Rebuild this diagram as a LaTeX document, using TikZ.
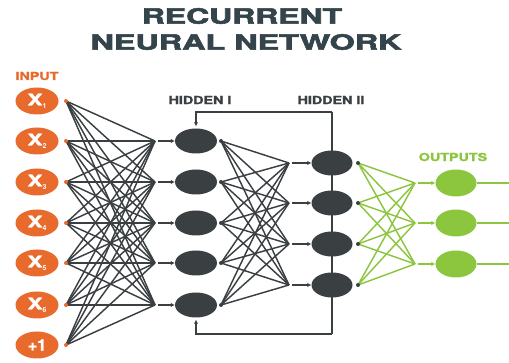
\documentclass[tikz,border=0pt]{standalone}
\usepackage{fontspec}
\setmainfont{TeX Gyre Heros}
\newfontfamily\heavy{TeX Gyre Heros}[BoldFeatures={FakeBold=1.6}]
\newfontfamily\heavier{TeX Gyre Heros}[BoldFeatures={FakeBold=2.4}]
\usetikzlibrary{arrows.meta,shapes.geometric}
\definecolor{ink}{HTML}{3A3F42}
\definecolor{titlecol}{HTML}{34444B}
\definecolor{orng}{HTML}{E86A2C}
\definecolor{grn}{HTML}{8CC63F}
\newcommand{\wide}[2]{\scalebox{#1}[1]{#2}}
\newcommand{\xin}[1]{\wide{1.4}{X}\raisebox{-3pt}{\normalfont\bfseries\fontsize{7}{7}\selectfont #1}}
\begin{document}
\begin{tikzpicture}[x=1pt,y=-1pt,
  inp/.style={ellipse, fill=orng, minimum width=43pt, minimum height=27pt, inner sep=0pt,
    text=white, font=\heavy\bfseries\fontsize{16}{16}\selectfont},
  hid/.style={ellipse, fill=ink, minimum width=42pt, minimum height=25pt, inner sep=0pt},
  outn/.style={ellipse, fill=grn, minimum width=41pt, minimum height=27pt, inner sep=0pt},
  wire/.style={draw=ink, line width=1.45pt},
  gwire/.style={draw=grn, line width=1.45pt},
  arr/.style={draw=ink, line width=1.3pt, -{Latex[length=4pt,width=4.5pt]}},
  garr/.style={draw=grn, line width=1.3pt, -{Latex[length=4pt,width=4.5pt]}},
  lbl/.style={font=\heavy\bfseries\fontsize{11}{11}\selectfont, inner sep=0pt},
  ttl/.style={font=\heavier\bfseries\fontsize{21}{21}\selectfont, text=titlecol, inner sep=0pt},
]
\useasboundingbox[fill=white] (0,0) rectangle (509,363);

% title
\node[ttl] (t1) at (242,16) {\wide{1.52}{RECURRENT}};
\node[ttl] (t2) at (246,42) {\wide{1.54}{NEURAL NETWORK}};

% layer labels
\node[lbl, text=orng] (lin) at (37,76) {\wide{1.3}{INPUT}};
\node[lbl, text=ink] (lh1) at (200,100) {\wide{1.3}{HIDDEN I}};
\node[lbl, text=ink] (lh2) at (331,100) {\wide{1.3}{HIDDEN II}};
\node[lbl, text=grn] (lout) at (453,157) {\wide{1.3}{OUTPUTS}};

% input layer
\foreach \i/\y/\t in {1/101/\xin{1},2/141/\xin{2},3/182/\xin{3},4/223/\xin{4},5/263/\xin{5},6/305/\xin{6},7/345/+1}{
  \node[inp] (i\i) at (37,\y) {\t};
  \coordinate (d\i) at (66,\y);
}

% hidden layer I
\foreach \j/\y in {1/141,2/182,3/223,4/263,5/305}{
  \node[hid] (h\j) at (196,\y) {};
  \coordinate (c\j) at (155,\y);
  \coordinate (e\j) at (221,\y);
}

% recurrent line through hidden layer II
\coordinate (ft) at (332,112);
\coordinate (fb) at (332,334);
\draw[wire] (ft) -- (fb);
\draw[arr, shorten >=2pt] (ft) -| (h1.north);
\draw[arr, shorten >=2pt] (fb) -| (h5.south);

% hidden layer II
\foreach \k/\y in {1/163,2/203,3/244,4/285}{
  \node[hid, minimum width=41pt] (g\k) at (332,\y) {};
  \coordinate (m\k) at (289,\y);
  \coordinate (f\k) at (358,\y);
}

% output layer
\foreach \o/\y in {1/183,2/223,3/264}{
  \node[outn] (o\o) at (456,\y) {};
  \coordinate (n\o) at (415,\y);
  \coordinate (r\o) at (509,\y);
  \draw[gwire] (o\o.east) -- (r\o);
}

% input -> hidden I
\foreach \i in {1,...,7}{
  \foreach \j in {1,...,5}{
    \draw[wire] (d\i) -- (c\j);
  }
  \fill[orng] (d\i) circle (2pt);
}
\foreach \j in {1,...,5}{
  \draw[arr] ([xshift=3pt]c\j) -- (h\j.west);
}

% hidden I -> hidden II
\foreach \j in {1,...,5}{
  \foreach \k in {1,...,4}{
    \draw[wire] (e\j) -- (m\k);
  }
  \fill[ink] (e\j) circle (2pt);
}
\foreach \k in {1,...,4}{
  \draw[arr] ([xshift=3pt]m\k) -- (g\k.west);
}

% hidden II -> outputs
\foreach \k in {1,...,4}{
  \foreach \o in {1,...,3}{
    \draw[gwire] (f\k) -- (n\o);
  }
  \fill[ink] (f\k) circle (2pt);
}
\foreach \o in {1,...,3}{
  \draw[garr] ([xshift=3pt]n\o) -- (o\o.west);
}
\end{tikzpicture}
\end{document}
